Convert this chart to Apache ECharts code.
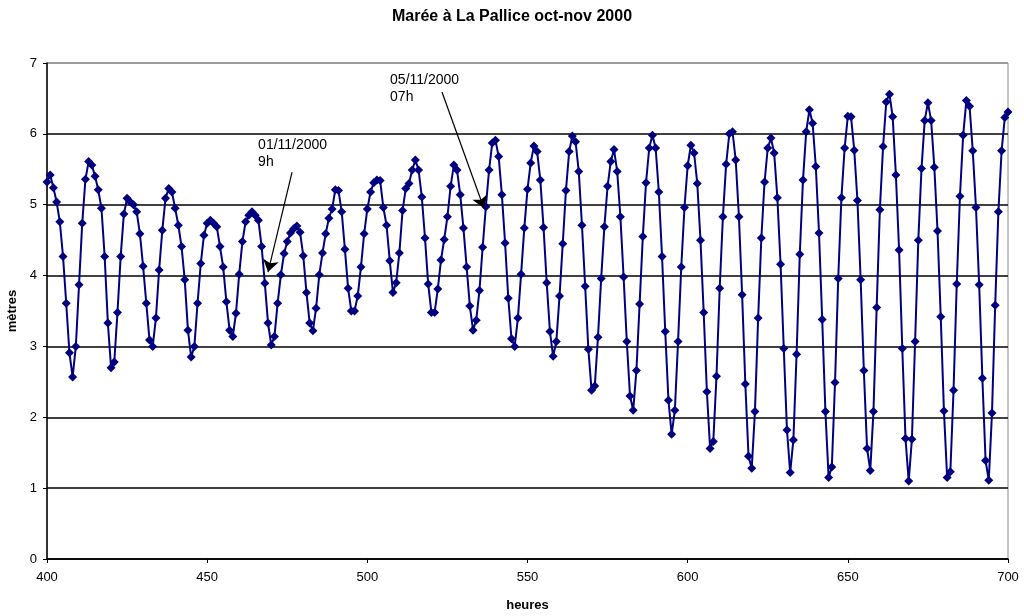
<!DOCTYPE html>
<html>
<head>
<meta charset="utf-8">
<title>Marée à La Pallice</title>
<script src="https://cdn.jsdelivr.net/npm/echarts@6/dist/echarts.min.js"></script>
<style>
  html, body { margin: 0; padding: 0; background: #fff; }
  #chart { width: 1024px; height: 616px; }
</style>
</head>
<body>
<div id="chart"></div>
<script>
// heure de départ de la série (relevés horaires)
var startHour = 400;

// hauteur d'eau en mètres, une valeur par heure de 400 à 700
var hauteurs = [
  5.32, 5.42, 5.24, 5.04, 4.76, 4.27, 3.61, 2.91, 2.57, 3.00,   // 400
  3.87, 4.74, 5.36, 5.61, 5.56, 5.40, 5.21, 4.95, 4.27, 3.33,   // 410
  2.70, 2.78, 3.48, 4.27, 4.87, 5.09, 5.04, 5.00, 4.90, 4.59,   // 420
  4.13, 3.61, 3.09, 3.00, 3.40, 4.08, 4.64, 5.09, 5.23, 5.18,   // 430
  4.95, 4.71, 4.41, 3.94, 3.23, 2.85, 3.00, 3.61, 4.17, 4.57,   // 440
  4.74, 4.78, 4.74, 4.69, 4.41, 4.12, 3.63, 3.23, 3.14, 3.47,   // 450
  4.02, 4.48, 4.76, 4.85, 4.90, 4.85, 4.78, 4.41, 3.89, 3.33,   // 460
  3.02, 3.14, 3.61, 4.01, 4.31, 4.48, 4.60, 4.66, 4.70, 4.61,   // 470
  4.28, 3.76, 3.33, 3.22, 3.54, 4.01, 4.32, 4.59, 4.81, 4.94,   // 480
  5.21, 5.20, 4.90, 4.37, 3.82, 3.50, 3.50, 3.71, 4.12, 4.59,   // 490
  4.94, 5.18, 5.31, 5.35, 5.34, 4.96, 4.71, 4.21, 3.76, 3.90,   // 500
  4.32, 4.92, 5.23, 5.30, 5.49, 5.63, 5.49, 5.11, 4.53, 3.88,   // 510
  3.48, 3.48, 3.81, 4.22, 4.51, 4.83, 5.26, 5.56, 5.49, 5.14,   // 520
  4.67, 4.12, 3.57, 3.23, 3.37, 3.79, 4.40, 4.97, 5.49, 5.87,   // 530
  5.91, 5.68, 5.14, 4.46, 3.68, 3.11, 3.00, 3.40, 4.02, 4.67,   // 540
  5.22, 5.59, 5.83, 5.75, 5.35, 4.68, 3.90, 3.21, 2.86, 3.07,   // 550
  3.71, 4.45, 5.20, 5.75, 5.97, 5.89, 5.47, 4.71, 3.85, 2.96,   // 560
  2.38, 2.44, 3.13, 3.96, 4.69, 5.26, 5.61, 5.78, 5.47, 4.83,   // 570
  3.98, 3.07, 2.30, 2.10, 2.66, 3.60, 4.55, 5.31, 5.80, 5.98,   // 580
  5.80, 5.18, 4.27, 3.21, 2.24, 1.76, 2.10, 3.07, 4.12, 4.96,   // 590
  5.55, 5.84, 5.73, 5.30, 4.50, 3.48, 2.36, 1.56, 1.66, 2.58,   // 600
  3.82, 4.83, 5.57, 6.00, 6.03, 5.63, 4.83, 3.73, 2.47, 1.45,   // 610
  1.28, 2.08, 3.40, 4.53, 5.32, 5.80, 5.94, 5.73, 5.10, 4.16,   // 620
  2.97, 1.82, 1.22, 1.68, 2.89, 4.30, 5.35, 6.03, 6.34, 6.15,   // 630
  5.54, 4.60, 3.38, 2.08, 1.15, 1.30, 2.49, 3.96, 5.10, 5.80,   // 640
  6.25, 6.24, 5.77, 5.06, 3.94, 2.66, 1.56, 1.25, 2.08, 3.55,   // 650
  4.93, 5.82, 6.45, 6.56, 6.24, 5.42, 4.36, 2.97, 1.70, 1.10,   // 660
  1.69, 3.07, 4.50, 5.51, 6.19, 6.44, 6.19, 5.53, 4.63, 3.42,   // 670
  2.09, 1.15, 1.23, 2.38, 3.88, 5.12, 5.98, 6.47, 6.39, 5.76,   // 680
  4.96, 3.87, 2.55, 1.39, 1.11, 2.06, 3.58, 4.90, 5.76, 6.23,   // 690
  6.31                                                          // 700
];

// annotations : texte, position du texte, départ et pointe de la flèche
var noteTextes = ['01/11/2000\n9h', '05/11/2000\n07h'];
var notePos = [[465.9, 5.72], [507.1, 6.64]];
var noteDepart = [[476.5, 5.46], [523.3, 6.59]];
var notePointe = [[469.0, 4.05], [536.4, 4.95]];

var serie = [];
for (var i = 0; i < hauteurs.length; i++) {
    serie.push([startHour + i, hauteurs[i]]);
}

var fleches = [];
var textes = [];
for (var k = 0; k < noteTextes.length; k++) {
    fleches.push([{ coord: noteDepart[k] }, { coord: notePointe[k] }]);
    textes.push({ coord: notePos[k], value: noteTextes[k] });
}

var chart = echarts.init(document.getElementById('chart'));
var police = 'Liberation Sans, Arial, sans-serif';

var option = {
    animation: false,
    backgroundColor: '#fff',
    title: {
        text: 'Marée à La Pallice oct-nov 2000',
        left: 'center',
        top: 4,
        textStyle: { fontFamily: police, fontSize: 16, fontWeight: 'bold', color: '#000' }
    },
    grid: {
        left: 47, right: 16, top: 63, bottom: 57,
        outerBoundsMode: 'none',
        containLabel: false,
        show: true,
        borderColor: '#8c8c8c',
        borderWidth: 1
    },
    xAxis: {
        type: 'value',
        min: 400, max: 700, interval: 50,
        name: 'heures',
        nameLocation: 'middle',
        nameGap: 40,
        nameTextStyle: { fontFamily: police, fontSize: 13, fontWeight: 'bold', color: '#000' },
        axisLine: { lineStyle: { color: '#000', width: 1.5 } },
        axisTick: { length: 4, lineStyle: { color: '#000' } },
        axisLabel: { fontFamily: police, fontSize: 13, color: '#000', margin: 12 },
        splitLine: { show: false }
    },
    yAxis: {
        type: 'value',
        min: 0, max: 7, interval: 1,
        name: 'mètres',
        nameLocation: 'middle',
        nameGap: 27,
        nameTextStyle: { fontFamily: police, fontSize: 13, fontWeight: 'bold', color: '#000' },
        axisLine: { show: true, lineStyle: { color: '#000', width: 1.5 } },
        axisTick: { show: true, length: 4, lineStyle: { color: '#000' } },
        axisLabel: { fontFamily: police, fontSize: 13, color: '#000', margin: 10 },
        splitLine: {
            show: true,
            lineStyle: {
                color: ['#000', '#000', '#000', '#000', '#000', '#000', '#000', '#8c8c8c'],
                width: 1.5
            }
        }
    },
    series: [{
        name: 'hauteur',
        type: 'line',
        data: serie,
        symbol: 'diamond',
        symbolSize: 9,
        showAllSymbol: true,
        clip: true,
        lineStyle: { color: '#000080', width: 2 },
        itemStyle: { color: '#000080' },
        markLine: {
            silent: true,
            symbol: ['none', 'arrow'],
            symbolSize: 12,
            label: { show: false },
            lineStyle: { color: '#000', width: 1.2, type: 'solid' },
            data: fleches
        },
        markPoint: {
            silent: true,
            symbol: 'circle',
            symbolSize: 0,
            label: {
                show: true,
                position: 'right',
                distance: 0,
                formatter: '{c}',
                fontFamily: police,
                fontSize: 14,
                lineHeight: 17,
                color: '#000',
                align: 'left'
            },
            data: textes
        }
    }]
};

chart.setOption(option);
</script>
</body>
</html>
